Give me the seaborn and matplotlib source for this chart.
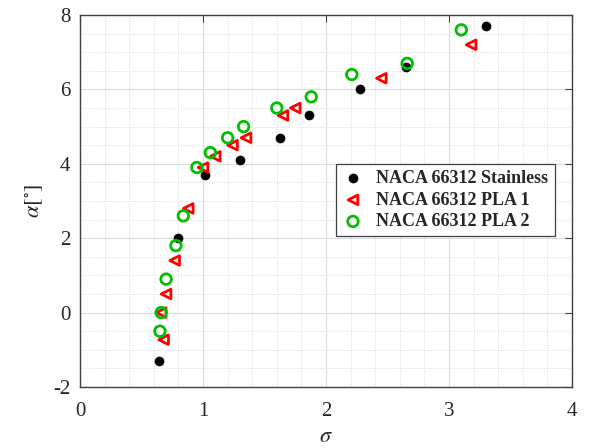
import matplotlib
matplotlib.use("Agg")
import matplotlib.pyplot as plt
from matplotlib.ticker import MultipleLocator
import seaborn as sns
import pandas as pd

# --- data ---
stainless_sigma = [0.64, 0.80, 1.02, 1.30, 1.63, 1.86, 2.28, 2.65, 3.30]
stainless_alpha = [-1.30, 2.00, 3.70, 4.10, 4.70, 5.30, 6.00, 6.60, 7.70]

pla1_sigma = [0.68, 0.66, 0.70, 0.77, 0.88, 1.00, 1.10, 1.24, 1.35, 1.65, 1.75, 2.45, 3.18]
pla1_alpha = [-0.73, 0.00, 0.50, 1.40, 2.80, 3.90, 4.20, 4.50, 4.70, 5.30, 5.50, 6.30, 7.20]

pla2_sigma = [0.65, 0.66, 0.70, 0.78, 0.84, 0.95, 1.06, 1.20, 1.33, 1.60, 1.88, 2.21, 2.66, 3.10]
pla2_alpha = [-0.50, 0.00, 0.90, 1.80, 2.60, 3.90, 4.30, 4.70, 5.00, 5.50, 5.80, 6.40, 6.70, 7.60]

labels = ["NACA 66312 Stainless", "NACA 66312 PLA 1", "NACA 66312 PLA 2"]
x_ticks = [0, 1, 2, 3, 4]
y_ticks = [-2, 0, 2, 4, 6, 8]

sns.set_style("white")
plt.rcParams["font.family"] = ["Liberation Serif", "DejaVu Serif"]
plt.rcParams["mathtext.fontset"] = "stix"
plt.rcParams["axes.unicode_minus"] = False

fig = plt.figure(figsize=(5.92, 4.48), dpi=100)
ax = fig.add_axes([80 / 592, 61 / 448, 492 / 592, 372 / 448])

df_s = pd.DataFrame({"sigma": stainless_sigma, "alpha": stainless_alpha})
df_1 = pd.DataFrame({"sigma": pla1_sigma, "alpha": pla1_alpha})
df_2 = pd.DataFrame({"sigma": pla2_sigma, "alpha": pla2_alpha})

sns.scatterplot(data=df_s, x="sigma", y="alpha", ax=ax, color="black", marker="o",
                s=42, edgecolor="black", linewidth=0.5, label=labels[0], zorder=3)
sns.scatterplot(data=df_1, x="sigma", y="alpha", ax=ax, color="#ff0000", marker="<",
                s=48, facecolor="none", edgecolor="#ff0000", linewidth=2.0,
                label=labels[1], zorder=4)
sns.scatterplot(data=df_2, x="sigma", y="alpha", ax=ax, color="#00c000", marker="o",
                s=58, facecolor="none", edgecolor="#00c000", linewidth=2.0,
                label=labels[2], zorder=5)

ax.set_xlim(0, 4)
ax.set_ylim(-2, 8)
ax.set_xticks(x_ticks)
ax.set_yticks(y_ticks)
ax.xaxis.set_minor_locator(MultipleLocator(0.2))
ax.yaxis.set_minor_locator(MultipleLocator(0.5))
ax.grid(True, which="major", color="#dcdcdc", linewidth=0.8, linestyle="-")
ax.grid(True, which="minor", color="#d8d8d8", linewidth=0.7, linestyle=":")
ax.set_axisbelow(True)

ax.tick_params(which="major", direction="in", length=5, width=0.8, color="#404040",
               top=True, right=True, labelsize=15)
ax.tick_params(axis="x", which="major", pad=11)
ax.tick_params(axis="y", which="major", pad=7)
ax.tick_params(which="minor", length=0, top=True, right=True)
for sp in ax.spines.values():
    sp.set_color("#404040")
    sp.set_linewidth(1.0)

ax.set_xlabel(r"$\sigma$", fontsize=16, labelpad=5)
ax.set_ylabel(r"$\alpha[^{\circ}]$", fontsize=16, labelpad=6)

leg = ax.legend(loc="upper left", bbox_to_anchor=(0.52, 0.60),
                prop={"family": "Liberation Serif", "weight": "bold", "size": 13},
                frameon=True, fancybox=False, edgecolor="#404040", framealpha=1,
                handletextpad=0.7, borderpad=0.35, labelspacing=0.25, handlelength=1.2,
                borderaxespad=0)
leg.get_frame().set_linewidth(0.9)

fig.savefig("out.png", dpi=100)
